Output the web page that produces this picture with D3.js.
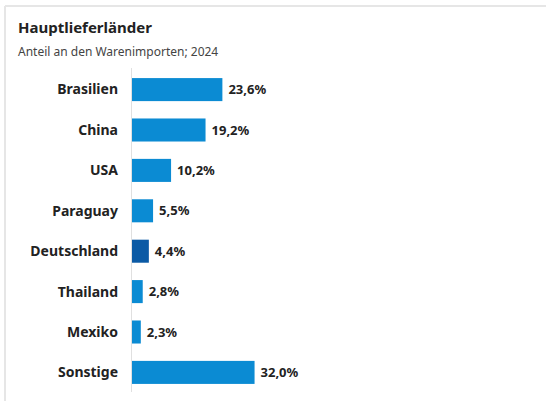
<!DOCTYPE html>
<html>
<head>
<meta charset="utf-8">
<script src="https://cdn.jsdelivr.net/npm/d3@7"></script>
<style>
    body { margin: 0; background: #fff; }
    svg { display: block; font-family: "Noto Sans", sans-serif; }
</style>
</head>
<body>
<svg width="547" height="401"></svg>
<script>
const countries = ['Brasilien', 'China', 'USA', 'Paraguay', 'Deutschland', 'Thailand', 'Mexiko', 'Sonstige'];
const shares = [23.6, 19.2, 10.2, 5.5, 4.4, 2.8, 2.3, 32.0];
const highlight = ['Deutschland'];

const W = 547, H = 401;
const X0 = 132, PX_PER_UNIT = 3.83;
const BAR = '#0b8bd3', BAR_DE = '#0b5aa5', FRAME = '#e6e6e6', TEXT = '#222';

const svg = d3.select('svg');

// Rahmen oben und links
svg.append('line')
    .attr('x1', 5).attr('y1', 6).attr('x2', W - 1).attr('y2', 6)
    .attr('stroke', FRAME).attr('stroke-width', 2);
svg.append('line')
    .attr('x1', 5).attr('y1', 6).attr('x2', 5).attr('y2', H)
    .attr('stroke', FRAME).attr('stroke-width', 2);

// Titel
svg.append('text')
    .attr('x', 18).attr('y', 33)
    .attr('font-size', 15).attr('font-weight', 700)
    .attr('fill', TEXT)
    .text('Hauptlieferländer');
svg.append('text')
    .attr('x', 18).attr('y', 56)
    .attr('font-size', 12)
    .attr('fill', '#444')
    .text('Anteil an den Warenimporten; 2024');

const x = d3.scaleLinear()
    .domain([0, 1])
    .range([X0, X0 + PX_PER_UNIT]);

const y = d3.scaleBand()
    .domain(countries)
    .range([70, 392])
    .paddingInner(0.43)
    .paddingOuter(0.2);

const data = countries.map((c, i) => ({name: c, value: shares[i]}));

// Achse
svg.append('line')
    .attr('x1', X0 - 0.5).attr('y1', 68).attr('x2', X0 - 0.5).attr('y2', 392)
    .attr('stroke', '#e0e0e0').attr('stroke-width', 1);

svg.selectAll('rect.bar')
    .data(data)
    .enter().append('rect')
    .attr('class', 'bar')
    .attr('x', x(0))
    .attr('y', d => y(d.name))
    .attr('width', d => x(d.value) - x(0))
    .attr('height', y.bandwidth())
    .attr('fill', d => highlight.includes(d.name) ? BAR_DE : BAR);

const fmt = v => d3.format('.1f')(v).replace('.', ',') + '%';

svg.selectAll('text.cat')
    .data(data)
    .enter().append('text')
    .attr('class', 'cat')
    .attr('x', 118)
    .attr('y', d => y(d.name) + y.bandwidth() / 2)
    .attr('dy', '0.35em')
    .attr('text-anchor', 'end')
    .attr('font-size', 14).attr('font-weight', 700)
    .attr('fill', TEXT)
    .text(d => d.name);

svg.selectAll('text.val')
    .data(data)
    .enter().append('text')
    .attr('class', 'val')
    .attr('x', d => x(d.value) + 6)
    .attr('y', d => y(d.name) + y.bandwidth() / 2)
    .attr('dy', '0.35em')
    .attr('font-size', 13).attr('font-weight', 700)
    .attr('fill', TEXT)
    .text(d => fmt(d.value));
</script>
</body>
</html>
